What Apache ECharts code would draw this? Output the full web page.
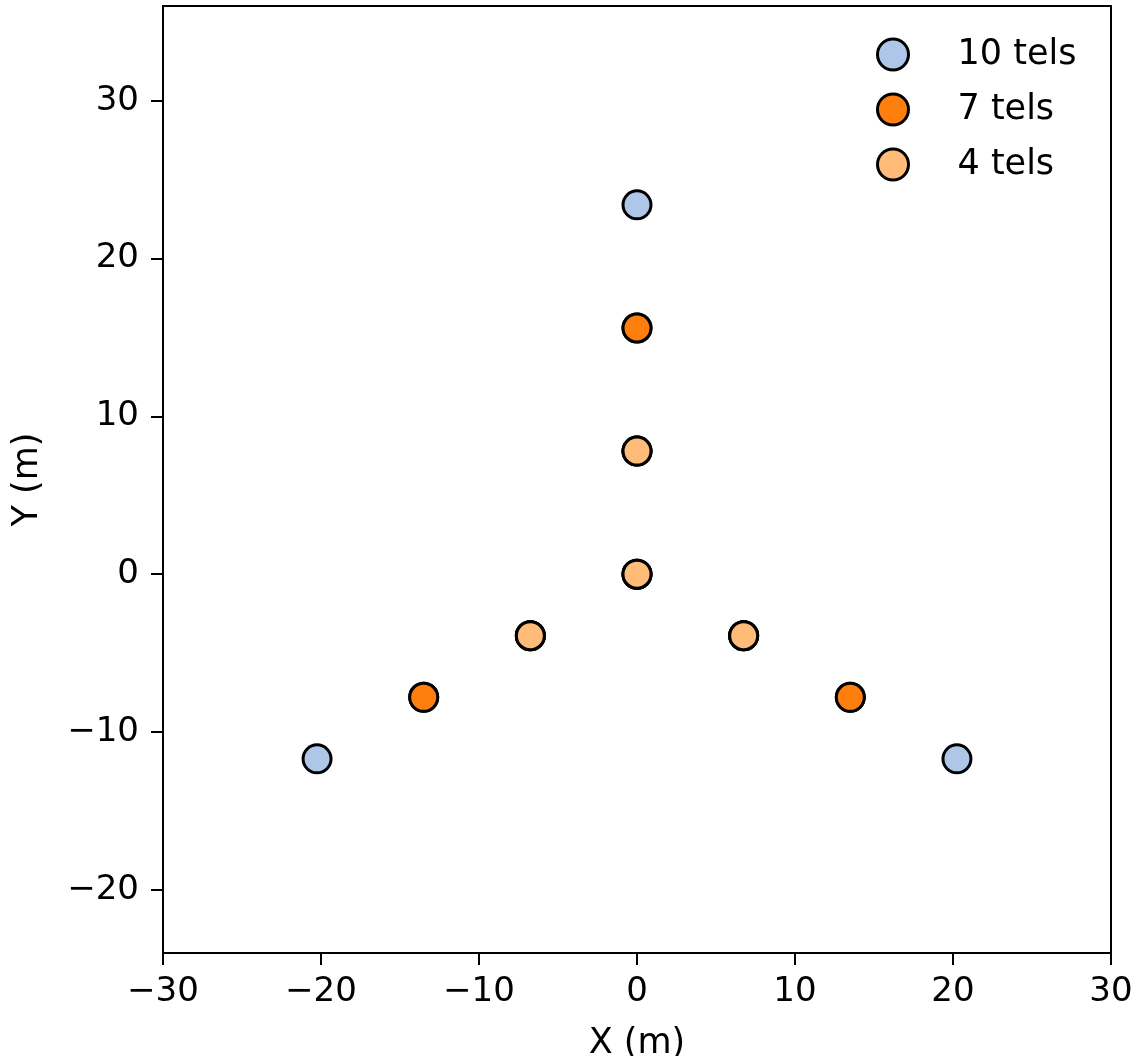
<!DOCTYPE html>
<html>
<head>
<meta charset="utf-8">
<script src="https://cdn.jsdelivr.net/npm/echarts@6/dist/echarts.min.js"></script>
<style>
  html, body { margin: 0; padding: 0; background: #fff; }
  #chart { width: 1140px; height: 1056px; }
</style>
</head>
<body>
<div id="chart"></div>
<script>
// telescope positions (m), each layout drawn on top of the larger one
const tels10 = [[0, 23.4], [-20.25, -11.7], [20.25, -11.7], [0, 15.6], [-13.5, -7.8], [13.5, -7.8],
  [0, 7.8], [-6.75, -3.9], [6.75, -3.9], [0, 0]]
const tels7 = [[0, 15.6], [-13.5, -7.8], [13.5, -7.8], [0, 7.8], [-6.75, -3.9], [6.75, -3.9], [0, 0]]
const tels4 = [[0, 7.8], [-6.75, -3.9], [6.75, -3.9], [0, 0]]

const seriesNames = ['10 tels', '7 tels', '4 tels']
const seriesColors = ['#aec7e8', '#ff7f0e', '#ffbb78']

const xTicks = [-30, -20, -10, 0, 10, 20, 30]
const yTicks = [-20, -10, 0, 10, 20, 30]

const font = 'DejaVu Sans'
const fmt = v => v < 0 ? '\u2212' + Math.abs(v) : String(v)

let myChart = echarts.init(document.getElementById('chart'))

const axisCommon = {
  axisLine: { onZero: false, lineStyle: { color: '#000', width: 2 } },
  axisTick: { inside: false, length: 12, lineStyle: { color: '#000', width: 2 } },
  splitLine: { show: false },
  nameLocation: 'middle',
  nameTextStyle: { fontFamily: font, fontSize: 35, color: '#000' }
}

let option = {
  animation: false,
  backgroundColor: '#fff',
  grid: {
    left: 163, right: 29, top: 6, bottom: 103,
    outerBoundsMode: 'none',
    containLabel: false,
    show: true, borderColor: '#000', borderWidth: 2
  },
  legend: {
    orient: 'vertical',
    left: 876, top: 37,
    padding: 0,
    icon: 'circle',
    itemWidth: 31, itemHeight: 31, itemGap: 20,
    data: seriesNames,
    itemStyle: { borderColor: '#000', borderWidth: 3 },
    textStyle: { fontFamily: font, fontSize: 35, color: '#000', lineHeight: 31, padding: [0, 0, 0, 44] }
  },
  xAxis: Object.assign({}, axisCommon, {
    type: 'value', min: -30, max: 30, interval: 10,
    name: 'X (m)', nameGap: 73,
    axisTick: Object.assign({}, axisCommon.axisTick, { customValues: xTicks }),
    axisLabel: { customValues: xTicks, formatter: fmt, margin: 22, fontFamily: font, fontSize: 34, color: '#000' }
  }),
  yAxis: Object.assign({}, axisCommon, {
    type: 'value', min: -24, max: 36,
    name: 'Y (m)', nameGap: 118,
    axisTick: Object.assign({}, axisCommon.axisTick, { customValues: yTicks }),
    axisLabel: { customValues: yTicks, formatter: fmt, margin: 24, fontFamily: font, fontSize: 34, color: '#000' }
  }),
  series: [tels10, tels7, tels4].map((d, i) => ({
    name: seriesNames[i],
    type: 'scatter',
    data: d,
    symbol: 'circle',
    symbolSize: 28,
    itemStyle: { color: seriesColors[i], borderColor: '#000', borderWidth: 3, opacity: 1 },
    z: 2 + i
  }))
}

myChart.setOption(option)
</script>
</body>
</html>
